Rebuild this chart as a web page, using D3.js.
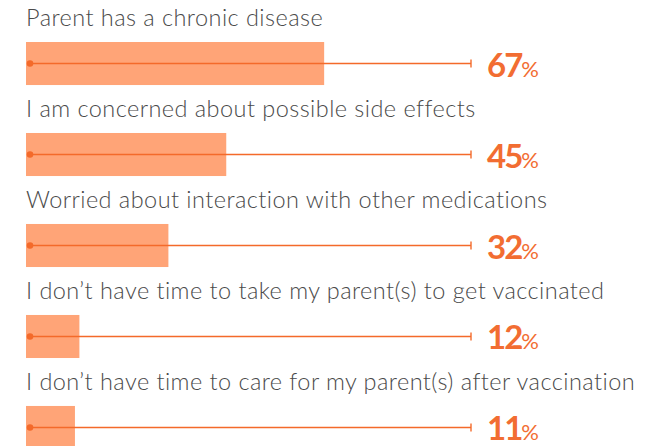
<!DOCTYPE html>
<html>
<head>
<meta charset="utf-8">
<script src="https://cdn.jsdelivr.net/npm/d3@7"></script>
<style>
  body { margin: 0; background: #fff; }
  svg { display: block; }
</style>
</head>
<body>
<div id="chart"></div>
<script>
// data
var categories = [
  "Parent has a chronic disease",
  "I am concerned about possible side effects",
  "Worried about interaction with other medications",
  "I don\u2019t have time to take my parent(s) to get vaccinated",
  "I don\u2019t have time to care for my parent(s) after vaccination"
]
var values = [67, 45, 32, 12, 11]
var maxValue = 100

var width = 650, height = 446

var svg = d3.select("#chart")
  .append("svg")
  .attr("width", width)
  .attr("height", height)

// x: percentage -> pixels, y: one band per reason
var x = d3.scaleLinear()
  .domain([0, maxValue])
  .range([26, 471])

var y = d3.scaleBand()
  .domain(categories)
  .range([42, 449])
  .paddingInner(0.527)
  .paddingOuter(0)

var rows = svg.selectAll("g.row")
  .data(categories.map(function(c, i) { return {cat: c, val: values[i]} }))
  .enter()
  .append("g")
  .attr("class", "row")

// label above each bar
rows.append("text")
  .attr("x", x(0))
  .attr("y", function(d) { return y(d.cat) - 16 })
  .attr("font-family", "Lato, sans-serif")
  .attr("font-weight", 300)
  .attr("font-size", "23.5px")
  .attr("letter-spacing", "0.45px")
  .attr("fill", "#4a4a4a")
  .text(function(d) { return d.cat })

// the bar
rows.append("rect")
  .attr("x", x(0))
  .attr("y", function(d) { return y(d.cat) })
  .attr("width", function(d) { return x(d.val) - x(0) })
  .attr("height", y.bandwidth())
  .attr("fill", "#ffa477")

// full-scale guide line with dot and end tick
rows.append("line")
  .attr("x1", x(0) + 4)
  .attr("x2", x(maxValue))
  .attr("y1", function(d) { return y(d.cat) + y.bandwidth() / 2 })
  .attr("y2", function(d) { return y(d.cat) + y.bandwidth() / 2 })
  .attr("stroke", "#f46a2a")
  .attr("stroke-width", 1.4)

rows.append("line")
  .attr("x1", x(maxValue))
  .attr("x2", x(maxValue))
  .attr("y1", function(d) { return y(d.cat) + y.bandwidth() / 2 - 4 })
  .attr("y2", function(d) { return y(d.cat) + y.bandwidth() / 2 + 4 })
  .attr("stroke", "#f46a2a")
  .attr("stroke-width", 1.4)

rows.append("circle")
  .attr("cx", x(0) + 4)
  .attr("cy", function(d) { return y(d.cat) + y.bandwidth() / 2 })
  .attr("r", 3.3)
  .attr("fill", "#f46a2a")

// value label
var val = rows.append("text")
  .attr("x", x(maxValue) + 16)
  .attr("y", function(d) { return y(d.cat) + y.bandwidth() / 2 + 13 })
  .attr("font-family", "Lato, sans-serif")
  .attr("font-weight", 700)
  .attr("fill", "#f26d32")

val.append("tspan")
  .attr("font-size", "33px")
  .attr("letter-spacing", "-2px")
  .text(function(d) { return d.val })

val.append("tspan")
  .attr("font-size", "22px")
  .attr("font-weight", 400)
  .text("%")
</script>
</body>
</html>
